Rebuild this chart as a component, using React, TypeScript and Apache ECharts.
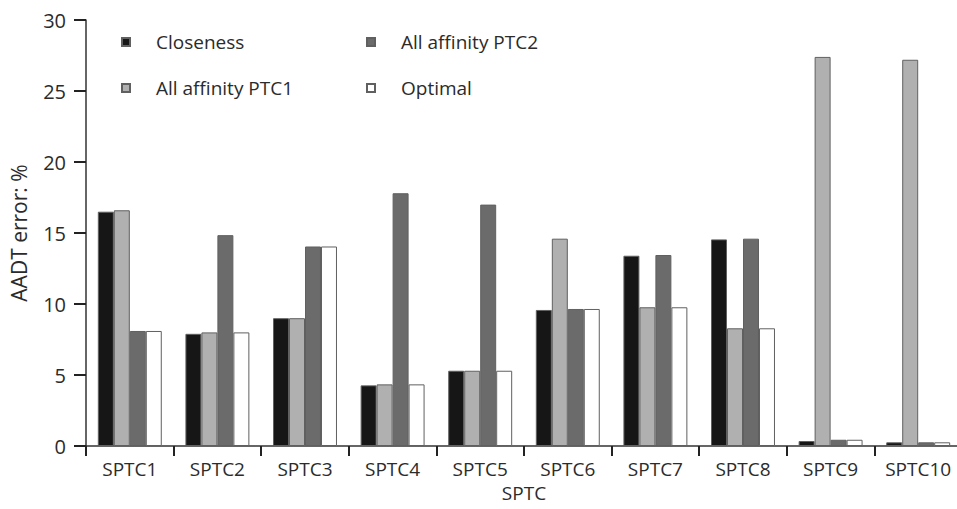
import React, { useEffect, useRef } from "react";
import * as echarts from "echarts";

const categories = ["SPTC1", "SPTC2", "SPTC3", "SPTC4", "SPTC5", "SPTC6", "SPTC7", "SPTC8", "SPTC9", "SPTC10"];
const closeness = [16.5, 7.9, 9.0, 4.27, 5.3, 9.58, 13.4, 14.55, 0.35, 0.26];
const affinityPTC1 = [16.6, 8.0, 9.0, 4.34, 5.3, 14.6, 9.77, 8.29, 27.4, 27.2];
const affinityPTC2 = [8.1, 14.85, 14.05, 17.8, 17.0, 9.65, 13.45, 14.6, 0.44, 0.26];
const optimal = [8.1, 8.0, 14.05, 4.34, 5.3, 9.65, 9.77, 8.29, 0.44, 0.26];
const yTicks = [0, 5, 10, 15, 20, 25, 30];

const FONT = "'Open Sans', sans-serif";
const TXT = "#2b2b2b";
const FS = 19;

export default function App() {
  const ref = useRef<HTMLDivElement>(null);
  useEffect(() => {
    if (!ref.current) return;
    const chart = echarts.init(ref.current, undefined, { renderer: "svg" });
    const mk = (name: string, data: number[], color: string) => ({
      name,
      type: "bar",
      data,
      barGap: "0%",
      barCategoryGap: "27%",
      itemStyle: { color, borderColor: "#606060", borderWidth: 1 },
    });
    const legendCommon = {
      orient: "vertical",
      icon: "rect",
      itemWidth: 8,
      itemHeight: 8,
      itemGap: 24,
      textStyle: { fontFamily: FONT, fontSize: FS, color: TXT, padding: [0, 0, 0, 21], lineHeight: 22 },
      padding: 0,
      selectedMode: false,
    };
    chart.setOption({
      animation: false,
      textStyle: { fontFamily: FONT },
      legend: [
        { ...legendCommon, left: 121, top: 31, data: ["Closeness", "All affinity PTC1"] },
        { ...legendCommon, left: 366, top: 31, data: ["All affinity PTC2", "Optimal"] },
      ],
      grid: { left: 86, right: 3, top: 20, bottom: 63 },
      xAxis: {
        type: "category",
        data: categories,
        name: "SPTC",
        nameLocation: "middle",
        nameGap: 37,
        nameTextStyle: { fontFamily: FONT, fontSize: FS, color: TXT },
        axisLine: { show: true, lineStyle: { color: "#333", width: 1.5 } },
        axisTick: { show: true, inside: false, alignWithLabel: false, length: 10, lineStyle: { color: "#222", width: 2 } },
        axisLabel: { fontFamily: FONT, fontSize: FS, color: TXT, margin: 13 },
      },
      yAxis: {
        type: "value",
        min: 0,
        max: 30,
        interval: 5,
        name: "AADT error: %",
        nameLocation: "middle",
        nameGap: 57,
        nameTextStyle: { fontFamily: FONT, fontSize: 21, color: TXT },
        axisLine: { show: true, lineStyle: { color: "#333", width: 1.5 } },
        axisTick: { show: true, inside: false, length: 12, lineStyle: { color: "#222", width: 2 } },
        axisLabel: {
          fontFamily: FONT,
          fontSize: 20,
          color: TXT,
          margin: 20,
          formatter: (v: number) => (yTicks.includes(v) ? String(v) : ""),
        },
        splitLine: { show: false },
      },
      series: [
        mk("Closeness", closeness, "#161616"),
        mk("All affinity PTC1", affinityPTC1, "#b0b0b0"),
        mk("All affinity PTC2", affinityPTC2, "#6b6b6b"),
        mk("Optimal", optimal, "#ffffff"),
      ],
    });
    return () => chart.dispose();
  }, []);
  return (
    <div style={{ position: "fixed", left: 0, top: 0, width: 957, height: 509, overflow: "hidden", background: "#fff" }}>
      <div ref={ref} style={{ width: 965, height: 509 }} />
    </div>
  );
}
